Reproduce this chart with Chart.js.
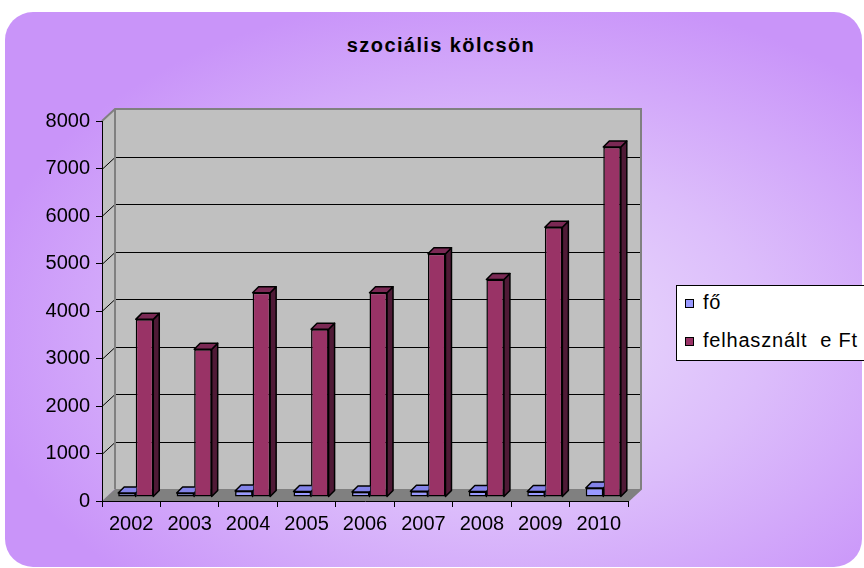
<!DOCTYPE html>
<html>
<head>
<meta charset="utf-8">
<script src="https://cdn.jsdelivr.net/npm/chart.js@4.4.1/dist/chart.umd.min.js"></script>
<style>
  body { margin: 0; width: 864px; height: 568px; overflow: hidden; position: relative; background: #fff;
         font-family: Arial, "Liberation Sans", sans-serif; }
  #bg { position: absolute; left: 5px; top: 12px; width: 857px; height: 555px; border-radius: 28px;
        background: radial-gradient(ellipse 62% 62% at 58% 58%, #ecdffb 0%, #dcbdfb 50%, #c994f9 100%); }
  #title { position: absolute; left: 9px; top: 33px; width: 864px; text-align: center; font-weight: bold;
           font-size: 20px; line-height: 24px; letter-spacing: 1.4px; color: #000; }
  #chartBox { position: absolute; left: 0; top: 0; }
  #legend { position: absolute; left: 676px; top: 285px; width: 200px; height: 74px; background: #fff;
            border: 1px solid #000; }
  .row { position: absolute; left: 8px; height: 24px; line-height: 24px; font-size: 20px; letter-spacing: 0.8px;
         white-space: pre; }
  .sw { display: inline-block; width: 9px; height: 9px; box-sizing: border-box; border: 1.5px solid #000;
        margin-right: 9px; vertical-align: 1px; }
</style>
</head>
<body>
<div id="bg"></div>
<div id="title">szociális kölcsön</div>
<div id="chartBox"><canvas id="chart" width="864" height="568"></canvas></div>
<div id="legend"></div>
<script>
// data
const years = ['2002', '2003', '2004', '2005', '2006', '2007', '2008', '2009', '2010'];
const fo = [85, 85, 125, 115, 105, 120, 115, 115, 190];
const felhasznalt = [3740, 3110, 4300, 3530, 4300, 5120, 4580, 5680, 7370];
const seriesNames = ['fő', 'felhasznált  e Ft'];
const seriesColors = ['#9999ff', '#993366'];
const sideColors = ['#6b6bcc', '#4f1a36'];
const topColors = ['#8383e8', '#7a2954'];
const yTicks = { min: 0, max: 8000, step: 1000 };

// wall depth and bar depth (pseudo 3D)
const WALL_DX = 13, WALL_DY = -12;
const BAR_SHIFT_X = 4.5, BAR_SHIFT_Y = -4;
const BAR_D = 6;

const box3d = {
    id: 'box3d',
    beforeDraw(chart) {
        const ctx = chart.ctx;
        const { left: L, right: R, top: T, bottom: B } = chart.chartArea;
        const ys = chart.scales.y;
        ctx.save();
        // left wall
        ctx.fillStyle = '#c0c0c0';
        ctx.beginPath();
        ctx.moveTo(L, T); ctx.lineTo(L + WALL_DX, T + WALL_DY);
        ctx.lineTo(L + WALL_DX, B + WALL_DY); ctx.lineTo(L, B);
        ctx.closePath(); ctx.fill();
        // back wall
        ctx.fillRect(L + WALL_DX, T + WALL_DY, R - L, B - T);
        // floor
        ctx.fillStyle = '#808080';
        ctx.beginPath();
        ctx.moveTo(L, B); ctx.lineTo(L + WALL_DX, B + WALL_DY);
        ctx.lineTo(R + WALL_DX, B + WALL_DY); ctx.lineTo(R, B);
        ctx.closePath(); ctx.fill();
        // grid lines on the walls
        ctx.strokeStyle = '#000';
        ctx.lineWidth = 1;
        ys.ticks.forEach(t => {
            if (t.value <= yTicks.min || t.value >= yTicks.max) return;
            const yy = Math.round(ys.getPixelForValue(t.value)) + 0.5;
            ctx.beginPath();
            ctx.moveTo(L, yy);
            ctx.lineTo(L + WALL_DX, yy + WALL_DY);
            ctx.lineTo(R + WALL_DX, yy + WALL_DY);
            ctx.stroke();
        });
        // wall outlines
        ctx.strokeStyle = '#808080';
        ctx.lineWidth = 2;
        ctx.beginPath();
        ctx.moveTo(L, T); ctx.lineTo(L + WALL_DX, T + WALL_DY);
        ctx.lineTo(R + WALL_DX, T + WALL_DY); ctx.lineTo(R + WALL_DX, B + WALL_DY);
        ctx.lineTo(R, B);
        ctx.moveTo(L + WALL_DX, T + WALL_DY); ctx.lineTo(L + WALL_DX, B + WALL_DY);
        ctx.stroke();
        ctx.restore();
    },
    beforeDatasetDraw(chart) {
        chart.ctx.save();
        chart.ctx.translate(BAR_SHIFT_X, BAR_SHIFT_Y);
    },
    afterDatasetDraw(chart, args) {
        const ctx = chart.ctx;
        const i = args.index;
        ctx.lineWidth = 1.5;
        ctx.strokeStyle = '#000';
        ctx.lineJoin = 'round';
        args.meta.data.forEach(el => {
            const { x, y, base, width } = el.getProps(['x', 'y', 'base', 'width'], true);
            const l = x - width / 2, r = x + width / 2;
            ctx.save();
            if (i === 0) {
                // the front series sits behind the taller neighbour on its right
                ctx.beginPath();
                ctx.rect(l - 5, y - BAR_D - 5, width + 5.7, base - y + BAR_D + 10);
                ctx.clip();
            }
            // right side
            ctx.fillStyle = sideColors[i];
            ctx.beginPath();
            ctx.moveTo(r, y); ctx.lineTo(r + BAR_D, y - BAR_D);
            ctx.lineTo(r + BAR_D, base - BAR_D); ctx.lineTo(r, base);
            ctx.closePath(); ctx.fill(); ctx.stroke();
            // top
            ctx.fillStyle = topColors[i];
            ctx.beginPath();
            ctx.moveTo(l, y); ctx.lineTo(l + BAR_D, y - BAR_D);
            ctx.lineTo(r + BAR_D, y - BAR_D); ctx.lineTo(r, y);
            ctx.closePath(); ctx.fill(); ctx.stroke();
            ctx.restore();
        });
        ctx.restore();
    }
};

const tickFont = { family: 'Arial, "Liberation Sans", sans-serif', size: 20 };

new Chart(document.getElementById('chart'), {
    type: 'bar',
    data: {
        labels: years,
        datasets: [
            { label: seriesNames[0], data: fo, backgroundColor: seriesColors[0], borderColor: '#000',
              borderWidth: 1.5, borderSkipped: false },
            { label: seriesNames[1], data: felhasznalt, backgroundColor: seriesColors[1], borderColor: '#000',
              borderWidth: 1.5, borderSkipped: false }
        ]
    },
    options: {
        responsive: false,
        animation: false,
        events: [],
        layout: { padding: { left: 0, top: 121, right: 236, bottom: 0 } },
        datasets: { bar: { categoryPercentage: 0.6, barPercentage: 1.0 } },
        plugins: { legend: { display: false }, title: { display: false }, tooltip: { enabled: false } },
        scales: {
            x: {
                afterFit: s => { s.height = 67; },
                grid: { drawOnChartArea: false, drawTicks: true, tickLength: 6, color: '#000', lineWidth: 1, offset: true },
                border: { color: '#000', width: 1 },
                ticks: { font: tickFont, color: '#000', padding: 5, maxRotation: 0 }
            },
            y: {
                min: yTicks.min, max: yTicks.max,
                afterFit: s => { s.width = 102; },
                grid: { drawOnChartArea: false, drawTicks: true, tickLength: 6, color: '#000', lineWidth: 1 },
                border: { color: '#000', width: 1 },
                ticks: { stepSize: yTicks.step, font: tickFont, color: '#000', padding: 6,
                         callback: v => String(v) }
            }
        }
    },
    plugins: [box3d]
});

// legend
const legend = document.getElementById('legend');
seriesNames.forEach((name, i) => {
    const row = document.createElement('div');
    row.className = 'row';
    row.style.top = (4 + i * 38) + 'px';
    const sw = document.createElement('span');
    sw.className = 'sw';
    sw.style.background = seriesColors[i];
    row.appendChild(sw);
    row.appendChild(document.createTextNode(name));
    legend.appendChild(row);
});
</script>
</body>
</html>
